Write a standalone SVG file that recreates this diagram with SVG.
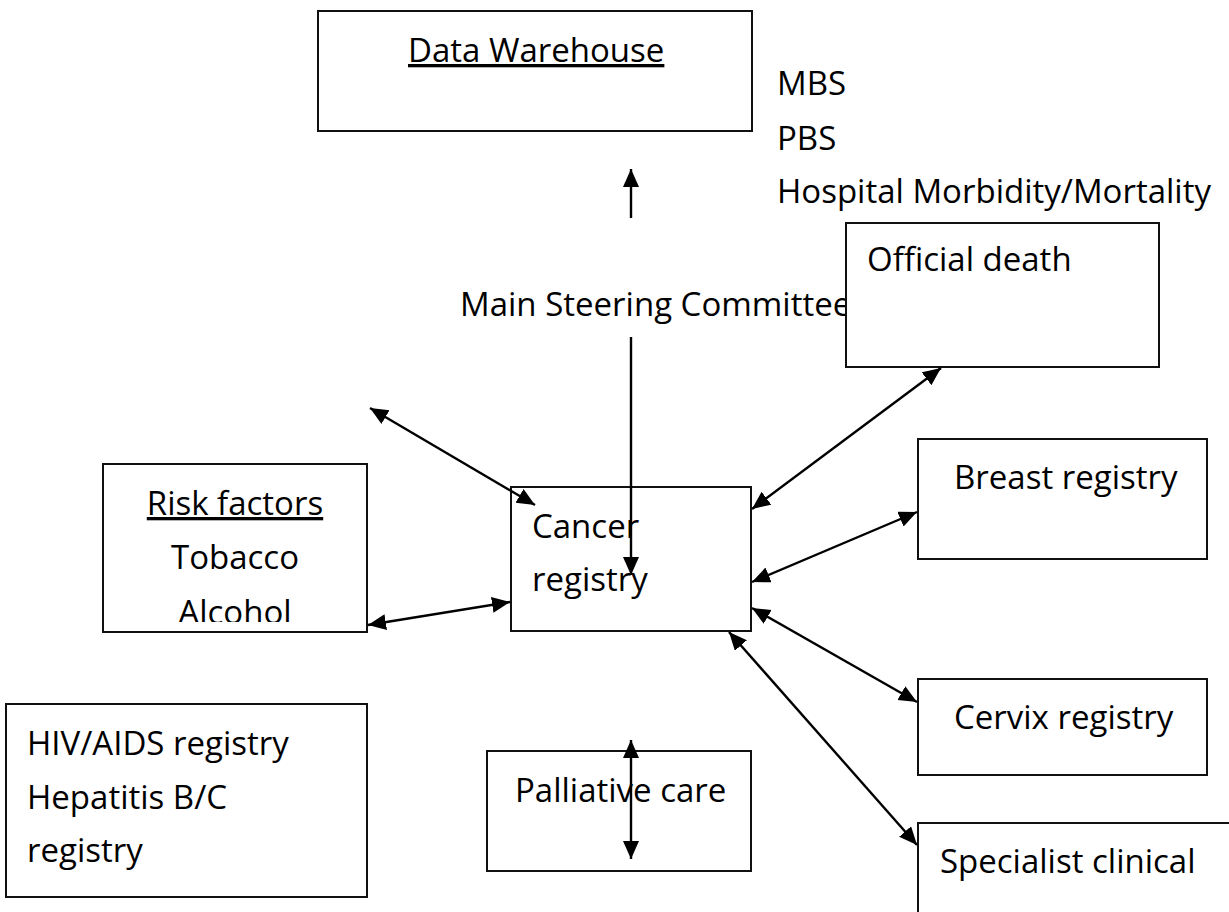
<svg xmlns="http://www.w3.org/2000/svg" width="1229" height="912" viewBox="0 0 1229 912">
<defs>
<style>
text{font-family:"Open Sans","Noto Sans","DejaVu Sans",sans-serif;font-size:33px;fill:#000}
.box{fill:#fff;stroke:#111;stroke-width:2}
.u{text-decoration:underline}
.c line{stroke:#000;stroke-width:2.4;marker-end:url(#ah)}
.c .d{marker-start:url(#ah)}
</style>
<marker id="ah" markerUnits="userSpaceOnUse" markerWidth="20" markerHeight="18" refX="18" refY="8" orient="auto-start-reverse" viewBox="0 0 20 18">
<path d="M0,0 L18,8 L0,16 z" fill="#000"/>
</marker>
<clipPath id="rc"><rect x="103" y="464" width="264" height="158"/></clipPath>
</defs>
<rect width="1229" height="912" fill="#fff"/>
<g id="data-warehouse">
<rect class="box" x="318" y="11" width="434" height="120"/>
<text x="408" y="62" class="u">Data Warehouse</text>
</g>
<g id="sources">
<text x="777" y="95">MBS</text>
<text x="777" y="150">PBS</text>
<text x="777" y="203">Hospital Morbidity/Mortality</text>
</g>
<g id="main-steering">
<text x="460" y="316">Main Steering Committee</text>
</g>
<g id="official-death">
<rect class="box" x="846" y="223" width="313" height="144"/>
<text x="867" y="271">Official death</text>
</g>
<g id="risk-factors">
<rect class="box" x="103" y="464" width="264" height="168"/>
<g clip-path="url(#rc)">
<text x="235" y="515" text-anchor="middle" class="u">Risk factors</text>
<text x="235" y="569" text-anchor="middle">Tobacco</text>
<text x="235" y="624" text-anchor="middle">Alcohol</text>
</g>
</g>
<g id="cancer-registry">
<rect class="box" x="511" y="487" width="240" height="144"/>
<text x="532" y="538">Cancer</text>
<text x="532" y="591">registry</text>
</g>
<g id="breast-registry">
<rect class="box" x="918" y="439" width="289" height="120"/>
<text x="954" y="489">Breast registry</text>
</g>
<g id="cervix-registry">
<rect class="box" x="918" y="679" width="289" height="96"/>
<text x="954" y="729">Cervix registry</text>
</g>
<g id="specialist-clinical">
<rect class="box" x="918" y="823" width="340" height="120"/>
<text x="940" y="873">Specialist clinical</text>
</g>
<g id="hiv-hepatitis">
<rect class="box" x="6" y="704" width="361" height="193"/>
<text x="27" y="755">HIV/AIDS registry</text>
<text x="27" y="809">Hepatitis B/C</text>
<text x="27" y="862">registry</text>
</g>
<g id="palliative-care">
<rect class="box" x="487" y="751" width="264" height="120"/>
<text x="515" y="802">Palliative care</text>
</g>
<g id="connectors" class="c">
<line x1="631" y1="218" x2="631" y2="169"/>
<line x1="631" y1="337" x2="631" y2="575"/>
<line class="d" x1="370" y1="408" x2="535" y2="505"/>
<line class="d" x1="368" y1="625" x2="510" y2="602"/>
<line class="d" x1="752" y1="509" x2="941" y2="368"/>
<line class="d" x1="752" y1="582" x2="917" y2="512"/>
<line class="d" x1="752" y1="608" x2="917" y2="702"/>
<line class="d" x1="729" y1="632" x2="917" y2="845"/>
<line class="d" x1="631" y1="740" x2="631" y2="859"/>
</g>
</svg>
